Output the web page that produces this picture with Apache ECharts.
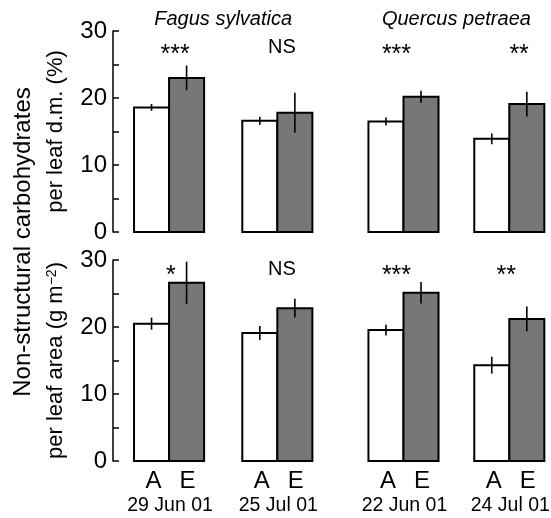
<!DOCTYPE html>
<html>
<head>
<meta charset="utf-8">
<script src="https://cdn.jsdelivr.net/npm/echarts@6/dist/echarts.min.js"></script>
<style>
html,body{margin:0;padding:0;background:#fff;}
#chart{width:551px;height:518px;}
</style>
</head>
<body>
<div id="chart"></div>
<script>
// ---------------- data ----------------
const speciesNames = ['Fagus sylvatica', 'Quercus petraea'];
const dates = ['29 Jun 01', '25 Jul 01', '22 Jun 01', '24 Jul 01'];
const treatments = ['A', 'E'];
const yTickValues = [0, 10, 20, 30];

// per leaf d.m. (%)
const dmA    = [18.6, 16.6, 16.5, 13.9];
const dmAErr = [0.5, 0.6, 0.6, 0.8];
const dmE    = [23.0, 17.8, 20.2, 19.1];
const dmEErr = [1.85, 3.0, 0.9, 1.85];
const sigDm  = ['***', 'NS', '***', '**'];

// per leaf area (g m-2)
const areaA    = [20.5, 19.1, 19.55, 14.3];
const areaAErr = [0.9, 1.05, 0.8, 1.25];
const areaE    = [26.6, 22.8, 25.1, 21.2];
const areaEErr = [3.15, 1.4, 1.6, 1.85];
const sigArea  = ['*', 'NS', '***', '**'];

// ---------------- layout (axis units; one unit = one bar width) ----------------
const groupPos = [1.6, 4.69, 8.29, 11.31];   // boundary between A and E bars
const speciesPos = [(groupPos[0] + groupPos[1]) / 2, (groupPos[2] + groupPos[3]) / 2];
const xMax = 12.5;
const sigLevelTop = 27.5, sigLevelBottom = 28.65;
const sigShiftTop = [0.17, 0.13, -0.2, 0.28];
const sigShiftBottom = [0.05, 0.13, -0.2, -0.09];

const FONT = '"Liberation Sans", Arial, Helvetica, sans-serif';
const GREY = '#777777';

function txtStyle(text, size, extra) {
  return Object.assign({ text: text, align: 'center', verticalAlign: 'middle',
    fontSize: size, fontFamily: FONT, fill: '#000' }, extra || {});
}

function barRender(fill, side) {
  return function (params, api) {
    const pos = api.value(0), v = api.value(1), e = api.value(2);
    const x0 = side === 0 ? pos - 1 : pos;
    const p0 = api.coord([x0, v]);
    const p1 = api.coord([x0 + 1, 0]);
    const cx = api.coord([x0 + 0.5, v])[0];
    const yt = api.coord([x0 + 0.5, v + e])[1];
    const yb = api.coord([x0 + 0.5, v - e])[1];
    return {
      type: 'group',
      children: [
        { type: 'rect', shape: { x: p0[0], y: p0[1], width: p1[0] - p0[0], height: p1[1] - p0[1] },
          style: { fill: fill, stroke: '#000', lineWidth: 2 } },
        { type: 'line', shape: { x1: cx, y1: yt, x2: cx, y2: yb },
          style: { stroke: '#000', lineWidth: 1.6 } }
      ]
    };
  };
}

function sigRenderFor(labels) {
  return function (params, api) {
    const pos = api.value(0), lvl = api.value(1), shift = api.value(2);
    const txt = labels[params.dataIndex];
    const p = api.coord([pos + shift, lvl]);
    const isStar = txt.indexOf('*') >= 0;
    return {
      type: 'text',
      x: p[0], y: p[1] + (isStar ? 7 : 0),
      style: txtStyle(txt, isStar ? 25 : 20)
    };
  };
}

// category labels under the lower panel (A / E and dates)
function xLabelRender(params, api) {
  const pos = api.value(0);
  const i = params.dataIndex;
  const pA = api.coord([pos - 0.5, 0]);
  const pE = api.coord([pos + 0.5, 0]);
  const pC = api.coord([pos, 0]);
  return {
    type: 'group',
    children: [
      { type: 'text', x: pA[0] + 2, y: pA[1] + 20.5, style: txtStyle(treatments[0], 24) },
      { type: 'text', x: pE[0] + 1, y: pE[1] + 20.5, style: txtStyle(treatments[1], 24) },
      { type: 'text', x: pC[0] + 1, y: pC[1] + 45, style: txtStyle(dates[i], 19.5) }
    ]
  };
}

function speciesRender(params, api) {
  const p = api.coord([api.value(0), 30]);
  return {
    type: 'text', x: p[0], y: p[1] - 12,
    style: txtStyle(speciesNames[params.dataIndex], 20, { fontStyle: 'italic' })
  };
}

function yAxisCfg(gridIndex, name) {
  return {
    type: 'value', gridIndex: gridIndex, min: 0, max: 30, interval: 10,
    axisLine: { show: true, lineStyle: { color: '#000', width: 1.5 } },
    axisTick: { show: true, inside: true, length: 6, lineStyle: { color: '#000', width: 1.5 } },
    minorTick: { show: true, splitNumber: 2, length: 6, lineStyle: { color: '#000', width: 1.5 } },
    splitLine: { show: false },
    minorSplitLine: { show: false },
    axisLabel: { color: '#000', fontSize: 24, fontFamily: FONT, margin: 6,
      formatter: function (v) { return yTickValues.indexOf(v) >= 0 ? String(v) : ''; } },
    name: name, nameLocation: 'middle', nameGap: 46,
    nameTextStyle: {
      color: '#000', fontSize: 22, fontFamily: FONT,
      rich: {
        a: { fontSize: 22, fontFamily: FONT, color: '#000' },
        s: { fontSize: 14, fontFamily: FONT, color: '#000', verticalAlign: 'top', lineHeight: 22 }
      }
    }
  };
}

const hiddenX = function (gridIndex) {
  return { type: 'value', gridIndex: gridIndex, min: 0, max: xMax, show: false,
    axisLine: { show: false }, axisTick: { show: false }, axisLabel: { show: false }, splitLine: { show: false } };
};

const option = {
  animation: false,
  backgroundColor: '#fff',
  grid: [
    { left: 113, right: 0, top: 31, height: 201 },
    { left: 113, right: 0, top: 260, height: 201 }
  ],
  xAxis: [hiddenX(0), hiddenX(1)],
  yAxis: [
    yAxisCfg(0, 'per leaf d.m. (%)'),
    yAxisCfg(1, '{a|per leaf area (g m}{s|\u22122}{a|)}')
  ],
  graphic: [
    { type: 'text', x: 23, y: 242, rotation: Math.PI / 2,
      style: txtStyle('Non-structural carbohydrates', 24) }
  ],
  series: [
    { name: 'dmA', type: 'custom', xAxisIndex: 0, yAxisIndex: 0, renderItem: barRender('#fff', 0),
      encode: { x: 0, y: 1 }, data: groupPos.map(function (p, i) { return [p, dmA[i], dmAErr[i]]; }) },
    { name: 'dmE', type: 'custom', xAxisIndex: 0, yAxisIndex: 0, renderItem: barRender(GREY, 1),
      encode: { x: 0, y: 1 }, data: groupPos.map(function (p, i) { return [p, dmE[i], dmEErr[i]]; }) },
    { name: 'areaA', type: 'custom', xAxisIndex: 1, yAxisIndex: 1, renderItem: barRender('#fff', 0),
      encode: { x: 0, y: 1 }, data: groupPos.map(function (p, i) { return [p, areaA[i], areaAErr[i]]; }) },
    { name: 'areaE', type: 'custom', xAxisIndex: 1, yAxisIndex: 1, renderItem: barRender(GREY, 1),
      encode: { x: 0, y: 1 }, data: groupPos.map(function (p, i) { return [p, areaE[i], areaEErr[i]]; }) },
    { name: 'sigTop', type: 'custom', xAxisIndex: 0, yAxisIndex: 0, renderItem: sigRenderFor(sigDm), clip: false,
      encode: { x: 0, y: 1 }, data: groupPos.map(function (p, i) { return [p, sigLevelTop, sigShiftTop[i]]; }) },
    { name: 'sigBottom', type: 'custom', xAxisIndex: 1, yAxisIndex: 1, renderItem: sigRenderFor(sigArea), clip: false,
      encode: { x: 0, y: 1 }, data: groupPos.map(function (p, i) { return [p, sigLevelBottom, sigShiftBottom[i]]; }) },
    { name: 'species', type: 'custom', xAxisIndex: 0, yAxisIndex: 0, renderItem: speciesRender, clip: false,
      encode: { x: 0 }, data: speciesPos.map(function (p) { return [p]; }) },
    { name: 'xLabels', type: 'custom', xAxisIndex: 1, yAxisIndex: 1, renderItem: xLabelRender, clip: false,
      encode: { x: 0 }, data: groupPos.map(function (p) { return [p]; }) }
  ]
};

const chart = echarts.init(document.getElementById('chart'), null, { renderer: 'canvas' });
chart.setOption(option);
</script>
</body>
</html>
